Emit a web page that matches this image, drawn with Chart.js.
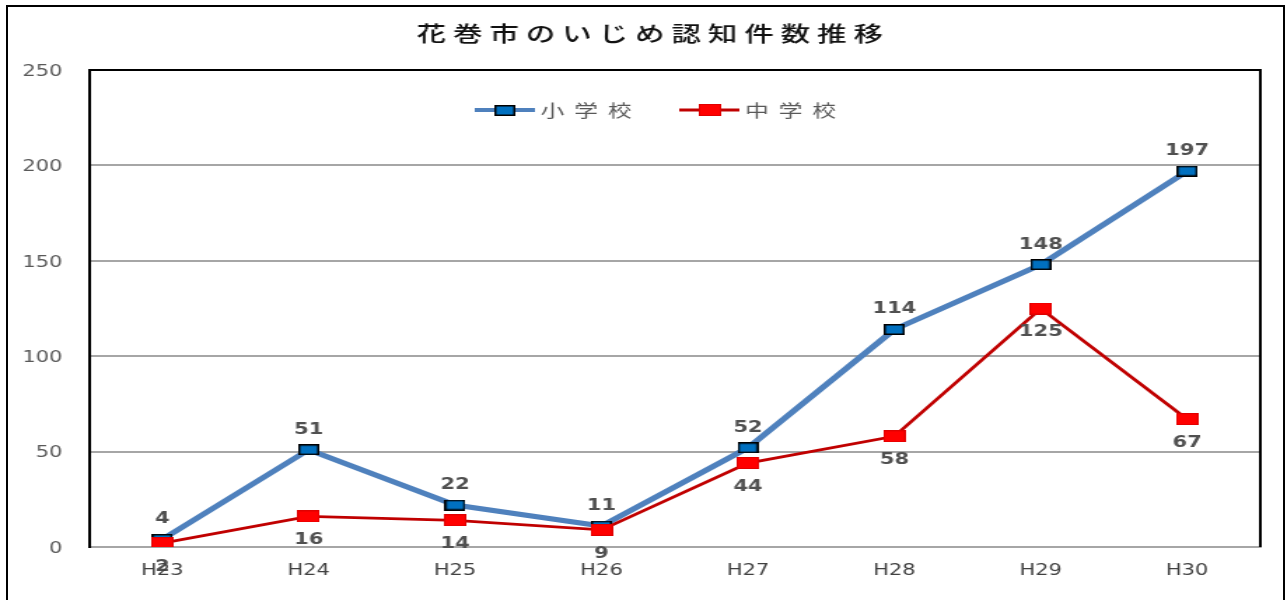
<!DOCTYPE html>
<html>
<head>
<meta charset="utf-8">
<script src="https://cdn.jsdelivr.net/npm/chart.js@4.4.0/dist/chart.umd.min.js"></script>
<style>
  body { margin: 0; background: #fff; overflow: hidden; }
  #wrap { position: absolute; left: 0; top: 0; width: 919px; height: 600px; transform: scaleX(1.4004); transform-origin: 0 0; }
  #frame { position: absolute; left: 6px; top: 5px; width: 1279px; height: 600px; border: 2px solid #000; border-bottom: none; box-sizing: border-box; pointer-events: none; }
</style>
</head>
<body>
<div id="wrap"><canvas id="myChart" width="919" height="600"></canvas></div>
<div id="frame"></div>
<script>
const titleText = '花巻市のいじめ認知件数推移';
const labels = ['H23', 'H24', 'H25', 'H26', 'H27', 'H28', 'H29', 'H30'];
const elementary = [4, 51, 22, 11, 52, 114, 148, 197];
const juniorHigh = [2, 16, 14, 9, 44, 58, 125, 67];
const yTicks = [0, 50, 100, 150, 200, 250];

// small bitmaps used as point markers
function makeMarker(w, h, fill, stroke, lw) {
  const c = document.createElement('canvas');
  c.width = w; c.height = h;
  const g = c.getContext('2d');
  g.fillStyle = fill;
  g.fillRect(0, 0, w, h);
  if (stroke) {
    g.strokeStyle = stroke;
    g.lineWidth = lw;
    g.strokeRect(lw / 2, lw / 2, w - lw, h - lw);
  }
  return c;
}

// legend icon: line with the marker in the middle
function makeLegendIcon(w, h, color, width, marker) {
  const c = document.createElement('canvas');
  c.width = w; c.height = h;
  const g = c.getContext('2d');
  g.strokeStyle = color;
  g.lineWidth = width;
  g.beginPath();
  g.moveTo(0, h / 2);
  g.lineTo(w, h / 2);
  g.stroke();
  g.drawImage(marker, Math.round((w - marker.width) / 2), Math.round((h - marker.height) / 2));
  return c;
}

const blueMarker = makeMarker(15, 11, '#0070C0', '#000', 1.5);
const redMarker = makeMarker(16, 12, '#FF0000', '#E00000', 1);
const legendIcons = [
  makeLegendIcon(43, 12, '#4F81BD', 4, blueMarker),
  makeLegendIcon(43, 12, '#C00000', 3, redMarker)
];

// title, in-plot legend and the right edge of the plot frame
const header = {
  id: 'header',
  beforeDatasetsDraw(chart) {
    const ctx = chart.ctx;
    const a = chart.chartArea;
    ctx.save();
    ctx.strokeStyle = '#000';
    ctx.lineWidth = 2;
    ctx.beginPath();
    ctx.moveTo(a.right, a.top - 1);
    ctx.lineTo(a.right, a.bottom);
    ctx.stroke();

    ctx.textAlign = 'left';
    ctx.textBaseline = 'middle';
    ctx.letterSpacing = '5px';
    ctx.font = '500 21px "Noto Sans CJK JP"';
    ctx.fillStyle = '#111';
    const tw = ctx.measureText(titleText).width - 5;
    ctx.fillText(titleText, 464 - tw / 2, 33);

    ctx.letterSpacing = '7px';
    ctx.font = '17px "Noto Sans CJK JP"';
    ctx.fillStyle = '#595959';
    const items = chart.data.datasets.map((ds, i) => ({
      text: ds.label,
      icon: legendIcons[i],
      w: ctx.measureText(ds.label).width - 7
    }));
    const iconGap = 4, itemGap = 34, ly = 110;
    const total = items.reduce((s, it) => s + it.icon.width + iconGap + it.w, 0) + itemGap * (items.length - 1);
    let x = 468 - total / 2;
    items.forEach(it => {
      ctx.drawImage(it.icon, x, ly - it.icon.height / 2);
      x += it.icon.width + iconGap;
      ctx.fillText(it.text, x, ly + 1);
      x += it.w + itemGap;
    });
    ctx.restore();
  }
};

const valueLabels = {
  id: 'valueLabels',
  afterDatasetsDraw(chart) {
    const ctx = chart.ctx;
    ctx.save();
    ctx.font = 'bold 15px "DejaVu Sans"';
    ctx.fillStyle = '#505050';
    ctx.textAlign = 'center';
    ctx.textBaseline = 'middle';
    chart.data.datasets.forEach((ds, i) => {
      const meta = chart.getDatasetMeta(i);
      const dy = i === 0 ? -20 : 24;
      meta.data.forEach((pt, j) => {
        ctx.fillText(String(ds.data[j]), pt.x, pt.y + dy);
      });
    });
    ctx.restore();
  }
};

const tickFont = { family: '"DejaVu Sans", sans-serif', size: 15 };

new Chart(document.getElementById('myChart'), {
  type: 'line',
  data: {
    labels: labels,
    datasets: [{
      label: '小学校',
      data: elementary,
      borderColor: '#4F81BD',
      backgroundColor: '#0070C0',
      borderWidth: 5,
      pointStyle: blueMarker,
      pointRadius: 6,
      pointHoverRadius: 6,
      tension: 0,
      order: 1
    }, {
      label: '中学校',
      data: juniorHigh,
      borderColor: '#C00000',
      backgroundColor: '#FF0000',
      borderWidth: 2.8,
      pointStyle: redMarker,
      pointRadius: 6,
      pointHoverRadius: 6,
      tension: 0,
      order: 0
    }]
  },
  options: {
    responsive: false,
    animation: false,
    devicePixelRatio: 1,
    events: [],
    layout: { padding: { top: 70, right: 19, bottom: 0, left: 0 } },
    plugins: {
      title: { display: false },
      legend: { display: false },
      tooltip: { enabled: false }
    },
    scales: {
      x: {
        offset: true,
        grid: { display: false, drawTicks: false },
        border: { color: '#A6A6A6', width: 2 },
        ticks: { color: '#404040', font: tickFont, padding: 15, maxRotation: 0, autoSkip: false, z: 1 },
        afterFit(s) { s.height = 53; }
      },
      y: {
        min: 0,
        max: 250,
        afterBuildTicks(s) { s.ticks = yTicks.map(v => ({ value: v })); },
        grid: {
          color: c => (c.tick && c.tick.value === 250 ? '#000' : '#A6A6A6'),
          lineWidth: 2,
          drawTicks: false
        },
        border: { color: '#000', width: 2 },
        ticks: { color: '#595959', font: tickFont, padding: 19, labelOffset: 2, z: 1 },
        afterFit(s) { s.width = 63.6; }
      }
    }
  },
  plugins: [header, valueLabels]
});
</script>
</body>
</html>
